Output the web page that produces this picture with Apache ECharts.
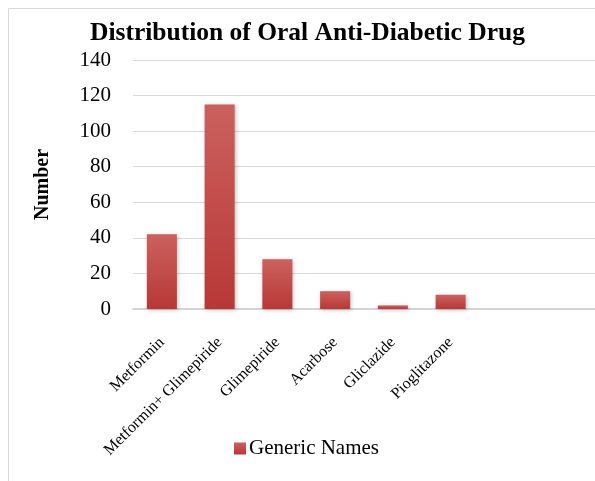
<!DOCTYPE html>
<html>
<head>
<meta charset="utf-8">
<script src="https://cdn.jsdelivr.net/npm/echarts@6/dist/echarts.min.js"></script>
<style>
  html, body { margin: 0; padding: 0; background: #fff; }
  #chart { width: 595px; height: 481px; }
</style>
</head>
<body>
<div id="chart"></div>
<script>
// data
const drugNames = ['Metformin', 'Metformin+ Glimepiride', 'Glimepiride', 'Acarbose', 'Gliclazide', 'Pioglitazone', '', '']
const drugCounts = [42, 115, 28, 10, 2, 8, null, null]
const yTicks = { min: 0, max: 140, step: 20 }

const serif = '"Liberation Serif", "DejaVu Serif", serif'

const chart = echarts.init(document.getElementById('chart'))
const option = {
  animation: false,
  // outer chart border (only top and left edges show inside the window)
  graphic: [{
    type: 'rect',
    shape: { x: 8.5, y: 8.5, width: 700, height: 600 },
    style: { fill: 'none', stroke: '#d9d9d9', lineWidth: 1 },
    silent: true
  }],
  title: {
    text: 'Distribution of Oral Anti-Diabetic Drug',
    left: 85,
    top: 15,
    textStyle: { fontFamily: serif, fontSize: 25.5, fontWeight: 'bold', color: '#000' }
  },
  legend: {
    data: ['Generic Names'],
    bottom: 17,
    left: 229,
    itemWidth: 12,
    itemHeight: 12,
    itemGap: 4,
    icon: 'rect',
    textStyle: { fontFamily: serif, fontSize: 21, color: '#000', padding: [0, 0, 0, -2] }
  },
  grid: {
    left: 133,
    right: 0,
    top: 60,
    bottom: 172
  },
  xAxis: {
    type: 'category',
    data: drugNames,
    axisLine: { lineStyle: { color: '#d4d4d4', width: 2 } },
    axisTick: { show: false },
    axisLabel: {
      interval: 0,
      rotate: 45,
      margin: 31,
      fontFamily: serif,
      fontSize: 16,
      color: '#000'
    }
  },
  yAxis: {
    type: 'value',
    min: yTicks.min,
    max: yTicks.max,
    interval: yTicks.step,
    name: 'Number',
    nameLocation: 'middle',
    nameGap: 80,
    nameTextStyle: { fontFamily: serif, fontSize: 20, fontWeight: 'bold', color: '#000' },
    axisLine: { show: false },
    axisTick: { show: false },
    splitLine: { lineStyle: { color: '#d9d9d9', width: 1 } },
    axisLabel: { fontFamily: serif, fontSize: 21, color: '#000', margin: 22 }
  },
  series: [{
    name: 'Generic Names',
    type: 'bar',
    data: drugCounts,
    barWidth: '52%',
    itemStyle: {
      color: new echarts.graphic.LinearGradient(0, 0, 0, 1, [
        { offset: 0, color: '#cb615e' },
        { offset: 1, color: '#b83836' }
      ]),
      shadowColor: 'rgba(0,0,0,0.25)',
      shadowBlur: 4,
      shadowOffsetX: 1,
      shadowOffsetY: 1
    }
  }]
}
chart.setOption(option)
</script>
</body>
</html>
